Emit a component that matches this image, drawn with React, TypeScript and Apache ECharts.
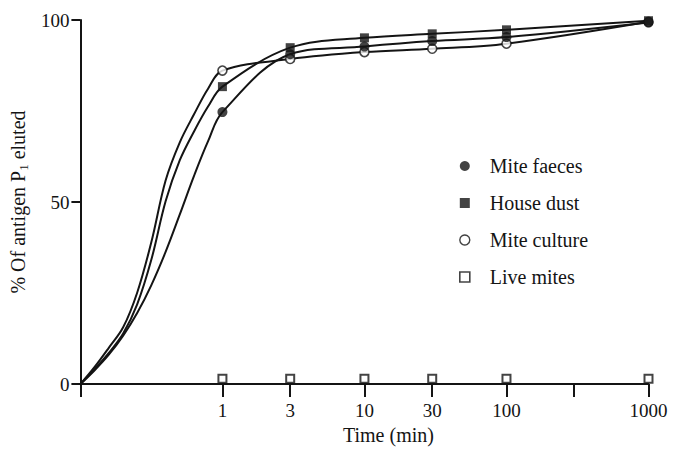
import React, { useEffect, useRef } from 'react';
import * as echarts from 'echarts';

// Measured time points (min) and % of antigen P1 eluted
const times = [1, 3, 10, 30, 100, 1000];
const miteFaeces = [74.7, 90.6, 92.7, 94.2, 95.3, 99.3];
const houseDust = [81.7, 92.4, 95.1, 96.2, 97.3, 99.8];
const miteCulture = [86.1, 89.3, 91.2, 92.1, 93.5, 99.5];
const liveMites = [1.5, 1.5, 1.5, 1.5, 1.5, 1.5];

// Fitted curves from the origin up to 1 min
const curveTimes = [0.1, 0.126, 0.158, 0.2, 0.251, 0.316, 0.398, 0.501, 0.631, 0.794];
const faecesCurve = [0, 3.8, 8.0, 13.3, 19.5, 27.2, 36.3, 46.6, 57.2, 66.8];
const dustCurve = [0, 4.1, 8.5, 13.9, 21.9, 34.2, 50.2, 61.5, 69.4, 76.3];
const cultureCurve = [0, 4.7, 9.9, 15.6, 25.1, 39.0, 55.9, 66.4, 74.1, 81.2];

// Axis ticks
const xTickTimes = [0.1, 1, 3, 10, 30, 100, 300, 1000];
const xTickLabels = ['', '1', '3', '10', '30', '100', '', '1000'];
const yTicks = [0, 50, 100];

const FONT = 'Liberation Serif';
const INK = '#141414';

export default function App() {
  const ref = useRef<HTMLDivElement>(null);

  useEffect(() => {
    const chart = echarts.init(ref.current!, null, { renderer: 'svg' });
    const pts = (t: number[], v: number[]) => t.map((x, i) => [x, v[i]]);
    const curve = (name: string, cv: number[], vals: number[]) => ({
      name,
      type: 'line',
      xAxisIndex: 0,
      data: [...pts(curveTimes, cv), ...pts(times, vals)],
      smooth: 0.35,
      symbol: 'none',
      silent: true,
      lineStyle: { color: INK, width: 2 },
      z: 2,
    });
    const filled = { color: INK };
    const open = { color: '#fff', borderColor: INK, borderWidth: 1.6 };
    const markers = (name: string, vals: number[], symbol: string, size: number, itemStyle: any) => ({
      name,
      type: 'scatter',
      xAxisIndex: 0,
      data: pts(times, vals),
      symbol,
      symbolSize: size,
      itemStyle,
      z: 5,
    });
    const tickPos = xTickTimes.map((t) => Math.log10(t));

    chart.setOption({
      animation: false,
      backgroundColor: '#fff',
      textStyle: { fontFamily: FONT, color: INK },
      grid: { left: 74.5, right: 37.5, top: 20, bottom: 56.7, containLabel: false },
      legend: {
        orient: 'vertical',
        left: 454,
        top: 151,
        itemWidth: 10,
        itemHeight: 10,
        itemGap: 17,
        textStyle: { fontSize: 20, fontFamily: FONT, color: INK, padding: [0, 0, 0, 15], lineHeight: 20 },
        data: [
          { name: 'Mite faeces', icon: 'circle', itemStyle: filled },
          { name: 'House dust', icon: 'rect', itemStyle: filled },
          { name: 'Mite culture', icon: 'circle', itemStyle: { color: '#fff', borderColor: INK, borderWidth: 1.4 } },
          { name: 'Live mites', icon: 'rect', itemStyle: { color: '#fff', borderColor: INK, borderWidth: 1.6 } },
        ],
      },
      xAxis: [
        {
          type: 'log',
          logBase: 10,
          min: 0.1,
          max: 1000,
          position: 'bottom',
          axisLine: { show: true, onZero: false, lineStyle: { color: INK, width: 2 } },
          axisTick: { show: false },
          axisLabel: { show: false },
          splitLine: { show: false },
          minorTick: { show: false },
        },
        {
          type: 'value',
          min: -1,
          max: 3,
          position: 'bottom',
          axisLine: { show: false, onZero: false },
          axisTick: { show: true, length: 13, lineStyle: { color: INK, width: 2 }, customValues: tickPos },
          axisLabel: {
            show: true,
            margin: 17,
            fontSize: 19,
            fontFamily: FONT,
            color: INK,
            customValues: tickPos,
            formatter: (v: number) => {
              const i = tickPos.findIndex((p) => Math.abs(p - v) < 1e-6);
              return i >= 0 ? xTickLabels[i] : '';
            },
          },
          splitLine: { show: false },
          name: 'Time (min)',
          nameLocation: 'middle',
          nameGap: 35,
          nameTextStyle: { fontSize: 20, fontFamily: FONT, color: INK, padding: [0, 0, 0, 48] },
        },
      ],
      yAxis: {
        type: 'value',
        min: yTicks[0],
        max: yTicks[yTicks.length - 1],
        interval: 50,
        axisLine: { show: true, onZero: false, lineStyle: { color: INK, width: 2 } },
        axisTick: { show: true, length: 9, lineStyle: { color: INK, width: 2 } },
        axisLabel: { fontSize: 19, fontFamily: FONT, color: INK, margin: 11 },
        splitLine: { show: false },
        name: '{a|% Of antigen P}{sub|1}{a| eluted}',
        nameLocation: 'middle',
        nameRotate: 90,
        nameGap: 34,
        nameTextStyle: {
          fontSize: 20,
          fontFamily: FONT,
          color: INK,
          rich: {
            a: { fontSize: 20, fontFamily: FONT, color: INK, lineHeight: 22, verticalAlign: 'top' },
            sub: { fontSize: 13, fontFamily: FONT, color: INK, lineHeight: 13, verticalAlign: 'top', padding: [9, 0, 0, 0] },
          },
        },
      },
      series: [
        curve('faeces-curve', faecesCurve, miteFaeces),
        curve('dust-curve', dustCurve, houseDust),
        curve('culture-curve', cultureCurve, miteCulture),
        markers('Mite culture', miteCulture, 'circle', 9, open),
        markers('House dust', houseDust, 'rect', 9, filled),
        markers('Mite faeces', miteFaeces, 'circle', 10, filled),
        markers('Live mites', liveMites, 'rect', 8, { color: '#fff', borderColor: INK, borderWidth: 2 }),
      ],
    });

    return () => chart.dispose();
  }, []);

  return <div ref={ref} style={{ position: 'fixed', left: 0, top: 0, width: 686, height: 450 }} />;
}
